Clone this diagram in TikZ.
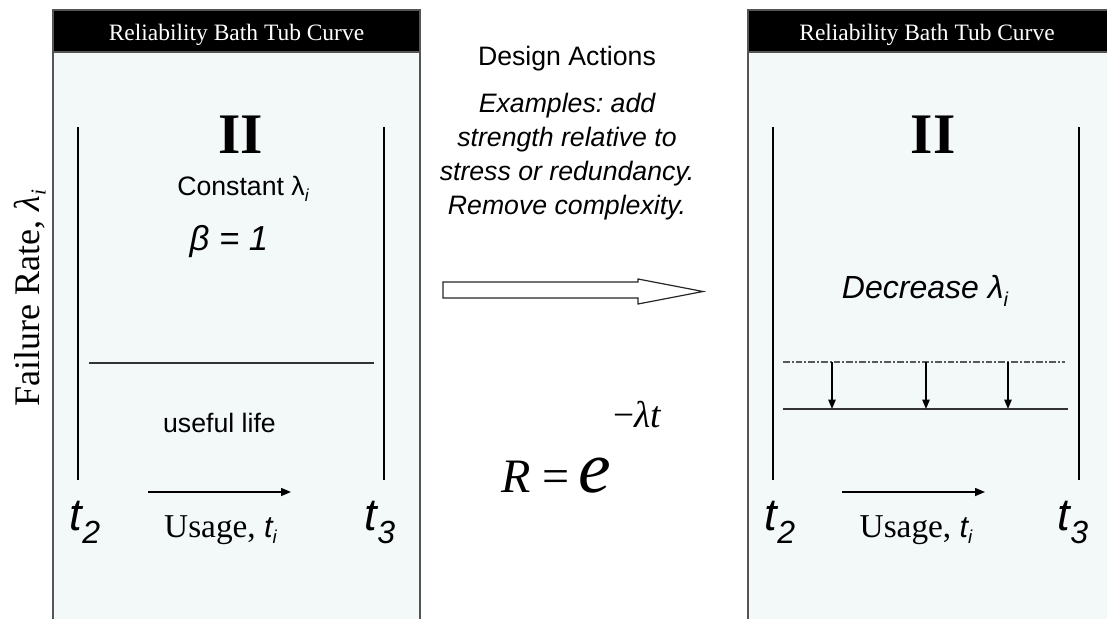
\documentclass[tikz,border=0pt]{standalone}
\usepackage{fontspec}
\setmainfont{Liberation Serif}
\setsansfont{Liberation Sans}
\usetikzlibrary{arrows.meta, positioning}
\definecolor{panelfill}{HTML}{F3F9F9}
\definecolor{panelline}{HTML}{555555}
\newcommand{\fsz}[2]{\fontsize{#1}{#2}\selectfont}
\newcommand{\lowi}[2]{\raisebox{-#1}{\fontsize{#2}{#2}\selectfont\itshape i}}
\newcommand{\tidx}[1]{t\raisebox{-9.75pt}{\fontsize{24}{24}\selectfont #1}}
\tikzset{
  panel/.style={draw=panelline, line width=0.9pt, fill=panelfill},
  header/.style={draw=panelline, line width=0.9pt, fill=black},
  title/.style={text=white, font=\fsz{17.6}{20}, anchor=base},
  arrow/.style={line width=1.1pt, -{Triangle[length=7.5pt, width=6pt]}},
  drop/.style={line width=1pt, -{Triangle[length=7pt, width=5.5pt]}}
}

\begin{document}
\begin{tikzpicture}[
            x=0.75pt, y=-0.75pt,
            every node/.style={inner sep=0pt, outer sep=0pt},
            % Estilos de lineas y textos
            bound/.style={line width=1pt, black},
            level/.style={line width=1.2pt, black!80},
            oldlevel/.style={line width=1.3pt, black!65, dash pattern=on 5pt off 1.6pt on 1.3pt off 1.6pt},
            bigarrow/.style={draw=black!85, line width=0.9pt, fill=white},
            phase/.style={font=\bfseries\fsz{43}{43}, anchor=base},
            tlabel/.style={font=\sffamily\itshape\fsz{34}{34}, anchor=base},
            usage/.style={font=\fsz{25}{25}, anchor=base}
        ]
            % Marco de la imagen
            \useasboundingbox (0,0) rectangle (1107,618);
            \clip (0,0) rectangle (1107,618);

            % Panel izquierdo (curva actual)
            \draw[panel] (53,10) rectangle (420,640);
            \draw[header] (53,10) rectangle (420,52);
            \node[title] (ltitle) at (236.5,40) {Reliability Bath Tub Curve};

            \coordinate (lt2top) at (78,127);
            \coordinate (lt2bot) at (78,480);
            \coordinate (lt3top) at (384,127);
            \coordinate (lt3bot) at (384,480);
            \draw[bound] (lt2top) -- (lt2bot);
            \draw[bound] (lt3top) -- (lt3bot);

            \node[phase] (lphase) at (241,153) {II};
            \node[anchor=base, font=\sffamily\fsz{20}{20}] (lconst) at (243,195) {Constant λ\lowi{5pt}{13}};
            \node[anchor=base, font=\sffamily\itshape\fsz{26}{26}] (lbeta) at (229,250) {β = 1};

            \coordinate (llevel1) at (89,363);
            \coordinate (llevel2) at (374,363);
            \draw[level] (llevel1) -- (llevel2);

            \node[anchor=base, font=\sffamily\fsz{20}{20}] (llife) at (219.5,432) {useful life};

            \coordinate (lusage1) at (148,492);
            \coordinate (lusage2) at (291,492);
            \draw[arrow] (lusage1) -- (lusage2);

            \node[tlabel] (lt2) at (85,530) {\tidx{2}};
            \node[tlabel] (lt3) at (380,530) {\tidx{3}};
            \node[usage] (lusage) at (220.5,537) {Usage, {\sffamily\itshape\fsz{23}{23}t\lowi{5pt}{14}}};

            % Eje vertical
            \node[rotate=90, anchor=base, font=\fsz{27}{27}] (rate) at (39,298) {Failure Rate, {\itshape λ}\lowi{5pt}{16}};

            % Zona central (acciones de diseno)
            \node[anchor=base, font=\sffamily\fsz{20}{20}] (design) at (567,65) {Design Actions};
            \node[align=center, font=\sffamily\itshape\frenchspacing\fsz{20}{25.5}] (examples) at (567,157) {Examples: add\\ strength relative to\\ stress or redundancy.\\ Remove complexity.};

            \draw[bigarrow] (443,282) -- (638,282) -- (638,279) -- (703,291.5) -- (638,304) -- (638,298) -- (443,298) -- cycle;

            \node[anchor=base east, font=\fsz{36}{36}] (rlhs) at (570,492) {\textit{R} =};
            \node[anchor=base west, font=\itshape\fsz{55}{55}] (rbase) at (578,492) {e};
            \node[anchor=base west, font=\fsz{28}{28}] (rexp) at (613,427) {−\textit{λt}};

            % Panel derecho (curva mejorada)
            \draw[panel] (748,10) rectangle (1120,640);
            \draw[header] (748,10) rectangle (1120,52);
            \node[title] (rtitle) at (927,40) {Reliability Bath Tub Curve};

            \coordinate (rt2top) at (773,127);
            \coordinate (rt2bot) at (773,480);
            \coordinate (rt3top) at (1079,127);
            \coordinate (rt3bot) at (1079,480);
            \draw[bound] (rt2top) -- (rt2bot);
            \draw[bound] (rt3top) -- (rt3bot);

            \node[phase] (rphase) at (933,153) {II};
            \node[anchor=base, font=\sffamily\itshape\fsz{24}{24}] (rdecrease) at (925,298) {Decrease λ\lowi{6pt}{15}};

            % Nivel anterior y nivel reducido
            \coordinate (rold1) at (783,362);
            \coordinate (rold2) at (1065,362);
            \coordinate (rnew1) at (783,409);
            \coordinate (rnew2) at (1068,409);
            \draw[oldlevel] (rold1) -- (rold2);
            \draw[level] (rnew1) -- (rnew2);

            \coordinate (rdropa1) at (832,362);
            \coordinate (rdropa2) at (832,409);
            \coordinate (rdropb1) at (926,362);
            \coordinate (rdropb2) at (926,409);
            \coordinate (rdropc1) at (1008,362);
            \coordinate (rdropc2) at (1008,409);
            \draw[drop] (rdropa1) -- (rdropa2);
            \draw[drop] (rdropb1) -- (rdropb2);
            \draw[drop] (rdropc1) -- (rdropc2);

            \coordinate (rusage1) at (842,492);
            \coordinate (rusage2) at (985,492);
            \draw[arrow] (rusage1) -- (rusage2);

            \node[tlabel] (rt2) at (780,530) {\tidx{2}};
            \node[tlabel] (rt3) at (1073,530) {\tidx{3}};
            \node[usage] (rusage) at (916,537) {Usage, {\sffamily\itshape\fsz{23}{23}t\lowi{5pt}{14}}};

        \end{tikzpicture}
\end{document}
